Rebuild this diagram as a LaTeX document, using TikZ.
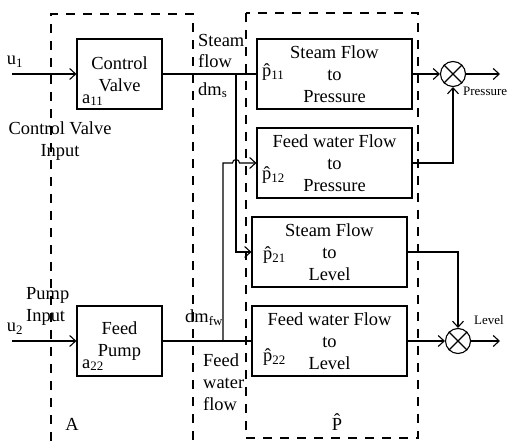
\documentclass[tikz,border=0pt]{standalone}
\usepackage{fontspec}
\setmainfont{Liberation Serif}
\usetikzlibrary{arrows.meta}
\begin{document}
\begin{tikzpicture}[x=1bp,y=-1bp,
  every node/.style={font=\fontsize{18.5}{22}\selectfont, inner sep=0pt},
  blk/.style={draw, line width=1.1bp, minimum height=70bp, align=center},
  sumj/.style={draw, circle, line width=1.1bp, minimum size=25bp},
  dashbox/.style={draw, line width=1.1bp, dash pattern=on 9bp off 8bp},
  wire/.style={line width=1.1bp},
  arr/.style={wire, -{Straight Barb[length=6bp,width=11bp,line width=1.1bp]}},
  txt/.style={align=left, anchor=west},
  small/.style={font=\fontsize{13}{15}\selectfont}]
\useasboundingbox (0,0) rectangle (517,441);
\fill[white] (0,0) rectangle (517,441);

% dashed groups
\draw[dashbox] (51,441) -- (51,14) -- (193,14) -- (193,441);
\draw[dashbox] (246,13) rectangle (418,438);

% blocks
\node[blk, minimum width=85bp] (cv) at (119.5,74) {Control\\Valve};
\node[blk, minimum width=85bp] (fp) at (119.5,341) {Feed\\Pump};
\node[blk, minimum width=155bp] (p11) at (334.5,74) {Steam Flow\\to\\Pressure};
\node[blk, minimum width=155bp] (p12) at (334.5,163) {Feed water Flow\\to\\Pressure};
\node[blk, minimum width=155bp] (p21) at (329.5,252) {Steam Flow\\to\\Level};
\node[blk, minimum width=155bp] (p22) at (329.5,341) {Feed water Flow\\to\\Level};

\node[anchor=west] (a11) at (82,100) {a\textsubscript{11}};
\node[anchor=west] (a22) at (82,365) {a\textsubscript{22}};
\node[anchor=west] (h11) at (262,72) {\^{p}\textsubscript{11}};
\node[anchor=west] (h12) at (262,175) {\^{p}\textsubscript{12}};
\node[anchor=west] (h21) at (263,255) {\^{p}\textsubscript{21}};
\node[anchor=west] (h22) at (263,357) {\^{p}\textsubscript{22}};

% summing junctions
\node[sumj] (s1) at (453,74) {};
\node[sumj] (s2) at (458,341) {};
\draw[wire] (s1.north west) -- (s1.south east) (s1.north east) -- (s1.south west);
\draw[wire] (s2.north west) -- (s2.south east) (s2.north east) -- (s2.south west);

% free ends
\coordinate (u1s) at (12,74);
\coordinate (u2s) at (12,341);
\coordinate (o1) at (500,74);
\coordinate (o2) at (500,341);
\coordinate (br1) at (236,74);
\coordinate (br2) at (223,341);

% connectors
\draw[arr] (u1s) -- (cv.west);
\draw[arr] (u2s) -- (fp.west);
\draw[wire] (cv.east) -- (p11.west);
\draw[wire] (fp.east) -- (p22.west);
\draw[arr] (br1) -- (br1 |- p21.west) -- (p21.west);
\draw[arr] (br2) -- (br2 |- p12.west) -- ([xshift=-3.5bp]br1 |- p12.west)
   arc[start angle=180, end angle=0, radius=3.5bp] -- (p12.west);
\draw[arr] (p11.east) -- (s1.west);
\draw[arr] (s1.east) -- (o1);
\draw[arr] (p12.east) -| (s1.south);
\draw[arr] (p21.east) -| (s2.north);
\draw[arr] (p22.east) -- (s2.west);
\draw[arr] (s2.east) -- (o2);

% labels
\node (u1) at (15,62) {u\textsubscript{1}};
\node (u2) at (15,329) {u\textsubscript{2}};
\node[txt] (sf) at (198,51) {Steam\\flow};
\node[txt] (dms) at (198,90) {dm\textsubscript{s}};
\node[align=center] (cvi) at (60,141) {Control Valve\\Input};
\node[txt] (pi) at (26,306) {Pump\\Input};
\node[txt] (dmfw) at (185,318) {dm\textsubscript{fw}};
\node[txt] (fwf) at (203,382) {Feed\\water\\flow};
\node (la) at (72,424) {A};
\node (lp) at (337,422) {\^{P}};
\node[small, anchor=west] (pr) at (463,91) {Pressure};
\node[small, anchor=west] (lv) at (474,320) {Level};
\end{tikzpicture}
\end{document}
